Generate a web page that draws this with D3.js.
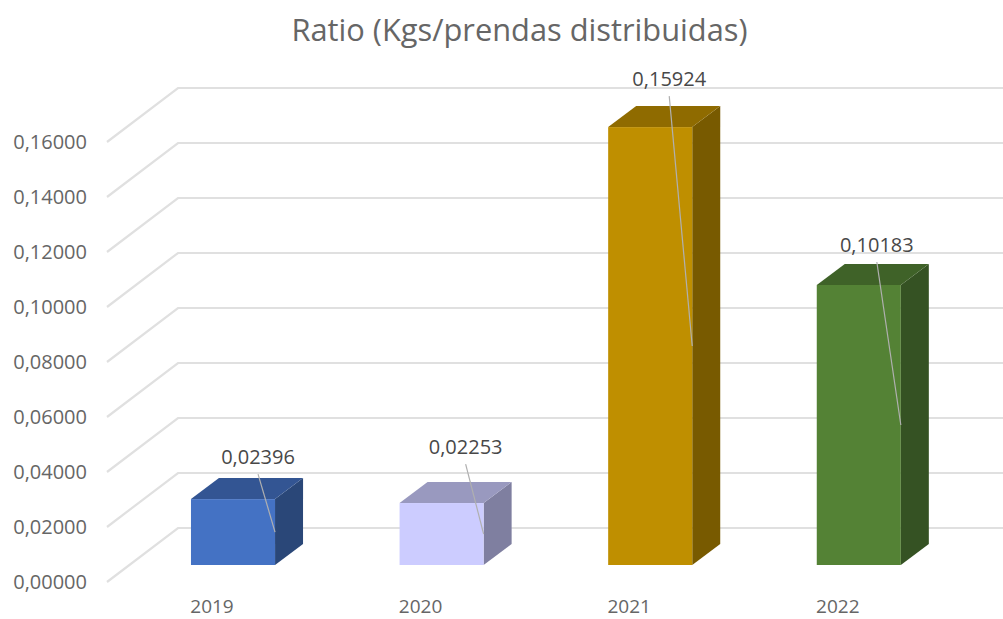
<!DOCTYPE html>
<html>
<head>
<meta charset="utf-8">
<script src="https://cdn.jsdelivr.net/npm/d3@7"></script>
<style>
html, body { margin: 0; padding: 0; background: #fff; overflow: hidden; }
svg { display: block; font-family: "Open Sans", sans-serif; }
</style>
</head>
<body>
<div id="chart"></div>
<script>
const titleText = 'Ratio (Kgs/prendas distribuidas)';
const years = ['2019', '2020', '2021', '2022'];
const ratios = [0.02396, 0.02253, 0.15924, 0.10183];
const axisTicks = [0, 0.02, 0.04, 0.06, 0.08, 0.10, 0.12, 0.14, 0.16];
const frontColors = ['#4472c4', '#ccccff', '#bf8f00', '#548235'];
const topColors = ['#335593', '#9999bf', '#8f6b00', '#3f6228'];
const sideColors = ['#2a4778', '#7f7fa0', '#785a00', '#355223'];
// where each value label sits, relative to the bar's top right corner
const labelGaps = [25, 39, 31, 23];
const labelShifts = [17, 18, 23, 24];

const width = 1003, height = 619;

// depth of the 3d floor and of the bars
const wallX = 178, floorDx = 71, floorDy = 54;
const barDx = 28, barDy = 21, barFront = 37;

const svg = d3.select('#chart').append('svg')
    .attr('width', width)
    .attr('height', height);

const x = d3.scaleBand()
    .domain(years)
    .range([128.7, 963.1])
    .paddingInner(0.597)
    .paddingOuter(0.2985);

// the scale gives the position on the back wall
const y = d3.scaleLinear()
    .domain([0, 0.16])
    .range([528, 88]);

const locale = d3.formatLocale({ decimal: ',', thousands: '.', grouping: [3], currency: ['', ''] });

// title
svg.append('text')
    .attr('x', 519.5)
    .attr('y', 41)
    .attr('text-anchor', 'middle')
    .attr('fill', '#666666')
    .style('font-size', '30.8px')
    .text(titleText);

// gridlines: up the floor then along the wall
svg.append('g').selectAll('path')
    .data(axisTicks)
    .enter()
    .append('path')
    .attr('fill', 'none')
    .attr('stroke', '#e0e0e0')
    .attr('stroke-width', 2.2)
    .attr('d', d => {
        const p = d3.path();
        p.moveTo(wallX - floorDx, y(d) + floorDy);
        p.lineTo(wallX, y(d));
        p.lineTo(width, y(d));
        return p.toString();
    });

// y axis
const yAxis = svg.append('g')
    .attr('transform', `translate(90,${floorDy})`)
    .call(d3.axisLeft(y).tickValues(axisTicks).tickSize(0).tickFormat(locale.format('.5f')));
yAxis.select('.domain').remove();
yAxis.selectAll('text')
    .attr('fill', '#666666')
    .style('font-family', '"Open Sans", sans-serif')
    .style('font-size', '20px');

// x axis
const xAxis = svg.append('g')
    .attr('transform', 'translate(-21,599.8)')
    .call(d3.axisBottom(x).tickSize(0).tickPadding(0));
xAxis.select('.domain').remove();
xAxis.selectAll('text')
    .attr('fill', '#666666')
    .style('font-family', '"Open Sans", sans-serif')
    .style('font-size', '19px');

// bars
const data = years.map((year, i) => ({ year, value: ratios[i], i }));
const bars = svg.append('g').selectAll('g')
    .data(data)
    .enter()
    .append('g');

const base = y(0) + barFront;
const labelX = d => x(d.year) + x.bandwidth() - labelShifts[d.i];

bars.append('path')
    .attr('fill', d => sideColors[d.i])
    .attr('d', d => {
        const r = x(d.year) + x.bandwidth();
        const t = y(d.value) + barFront;
        return `M${r},${t}L${r + barDx},${t - barDy}L${r + barDx},${base - barDy}L${r},${base}Z`;
    });

bars.append('path')
    .attr('fill', d => topColors[d.i])
    .attr('d', d => {
        const l = x(d.year);
        const r = l + x.bandwidth();
        const t = y(d.value) + barFront;
        return `M${l},${t}L${l + barDx},${t - barDy}L${r + barDx},${t - barDy}L${r},${t}Z`;
    });

bars.append('rect')
    .attr('x', d => x(d.year))
    .attr('y', d => y(d.value) + barFront)
    .attr('width', x.bandwidth())
    .attr('height', d => base - (y(d.value) + barFront))
    .attr('fill', d => frontColors[d.i]);

// leader lines from the label to the middle of the bar's front edge
bars.append('line')
    .attr('x1', labelX)
    .attr('y1', d => y(d.value) + barFront - labelGaps[d.i])
    .attr('x2', d => x(d.year) + x.bandwidth())
    .attr('y2', d => (y(d.value) + barFront + base) / 2)
    .attr('stroke', '#b0b0b0')
    .attr('stroke-width', 1.2);

// value labels
bars.append('text')
    .attr('x', labelX)
    .attr('y', d => y(d.value) + barFront - labelGaps[d.i] - 10)
    .attr('text-anchor', 'middle')
    .attr('fill', '#484848')
    .style('font-size', '20px')
    .text(d => locale.format('.5f')(d.value));
</script>
</body>
</html>
